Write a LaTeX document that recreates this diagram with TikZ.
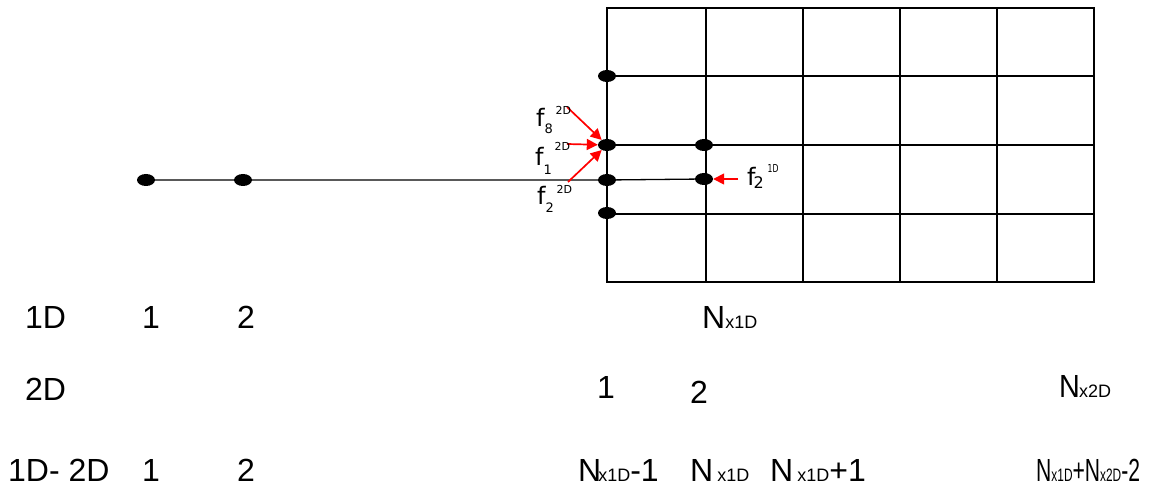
\documentclass[tikz,border=0pt]{standalone}
\usepackage{fontspec}
\usepackage{graphicx}
\setmainfont{Liberation Sans}
\newfontfamily\dvs{DejaVu Sans}
\usetikzlibrary{shapes.geometric,arrows.meta}
\newcommand{\sbx}[1]{{\fontsize{18}{18}\selectfont #1}}
\newcommand{\fss}[5]{f\rlap{\kern#1\raisebox{#2}{\fontsize{13}{13}\selectfont #3}}\kern11pt\raisebox{#4}{\fontsize{11}{11}\selectfont #5}}
\begin{document}
\begin{tikzpicture}[x=1pt,y=-1pt,
  dot/.style={ellipse,fill=black,minimum width=18pt,minimum height=12pt,inner sep=0pt},
  gridline/.style={line width=1.3pt},
  line1d/.style={line width=1.3pt},
  redarr/.style={red,line width=1.7pt,-{Triangle[length=11pt,width=11pt]}},
  big/.style={font=\fontsize{32}{36}\selectfont,inner sep=0pt,anchor=base west},
  flab/.style={inner sep=0pt,anchor=base west,font=\dvs\fontsize{24}{24}\selectfont}]
\useasboundingbox (0,0) rectangle (1152,486);
% grid
\draw[gridline] (607,8) rectangle (1094,282);
\foreach \x in {706,803,900,997} \draw[gridline] (\x,8) -- (\x,282);
\foreach \y in {76,145,214} \draw[gridline] (607,\y) -- (1094,\y);
% dots
\node[dot] (a1) at (146,180) {};
\node[dot] (a2) at (243,180) {};
\node[dot] (q1) at (607,76) {};
\node[dot] (q2) at (607,145) {};
\node[dot] (q3) at (607,180) {};
\node[dot] (q4) at (607,213) {};
\node[dot] (r1) at (704,145) {};
\node[dot] (r2) at (704,179) {};
\draw[line1d] (a1.center) -- (a2.center) -- (q3.center) -- (r2.center);
% red arrows
\coordinate (t8) at (567,107);
\coordinate (t1) at (567,144);
\coordinate (t2) at (568,182);
\coordinate (t21) at (738,179);
\draw[redarr] (t8) -- (q2);
\draw[redarr] (t1) -- (q2);
\draw[redarr] (t2) -- (q2);
\draw[redarr] (t21) -- (r2);
% f labels
\node[flab] (f8) at (536,127) {\fss{0pt}{-7pt}{8}{12pt}{2D}};
\node[flab] (f1) at (535,166) {\fss{0pt}{-9pt}{1}{15pt}{2D}};
\node[flab] (f2) at (537,205) {\fss{0pt}{-8pt}{2}{11pt}{2D}};
\node[flab] (f21) at (747,186) {f\rlap{\kern-2pt\raisebox{-3pt}{\fontsize{16}{16}\selectfont 2}}\kern12pt\raisebox{13pt}{\scalebox{0.7}[1]{\fontsize{11}{11}\selectfont 1D}}};
% row 1
\node[big] (r1a) at (25,329) {1D};
\node[big] (r1b) at (142,329) {1};
\node[big] (r1c) at (237,329) {2};
\node[big] (r1d) at (702,329) {N\sbx{x1D}};
% row 2
\node[big] (r2a) at (25,400) {2D};
\node[big] (r2b) at (597,399) {1};
\node[big] (r2c) at (690,403) {2};
\node[big] (r2d) at (1059,398) {\scalebox{0.9}[1]{N}\kern-1pt\sbx{x2D}};
% row 3
\node[big] (r3a) at (8,481) {1D- 2D};
\node[big] (r3b) at (142,481) {1};
\node[big] (r3c) at (237,481) {2};
\node[big] (r3d) at (578,481) {N\kern-3pt\sbx{x1D}-1};
\node[big] (r3e) at (690,481) {N\kern4pt\sbx{x1D}};
\node[big] (r3f) at (770,481) {N\kern4pt\sbx{x1D}+1};
\node[big] (r3g) at (1036,481) {\scalebox{0.66}[1]{N\sbx{x1D}+N\sbx{x2D}-2}};
\end{tikzpicture}
\end{document}
